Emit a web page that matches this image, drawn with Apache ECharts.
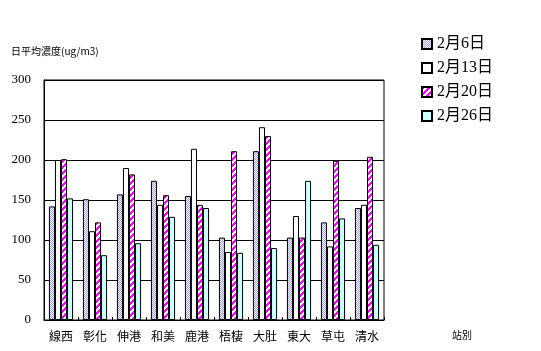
<!DOCTYPE html>
<html>
<head>
<meta charset="utf-8">
<script src="https://cdn.jsdelivr.net/npm/echarts@6/dist/echarts.min.js"></script>
<style>
  html, body { margin: 0; padding: 0; background: #fff; }
  #chart { width: 541px; height: 351px; }
</style>
</head>
<body>
<div id="chart"></div>
<script>
// 站別
var stations = ['線西', '彰化', '伸港', '和美', '鹿港', '梧棲', '大肚', '東大', '草屯', '清水'];
var seriesNames = ['2月6日', '2月13日', '2月20日', '2月26日'];
// 日平均濃度 (ug/m3)
var feb6  = [142, 151, 157, 174, 155, 103, 211, 103, 122, 140];
var feb13 = [200, 111, 190, 144, 214, 85, 241, 130, 92, 144];
var feb20 = [201, 122, 182, 156, 144, 211, 230, 103, 199, 204];
var feb26 = [152, 81, 96, 129, 140, 84, 90, 174, 127, 94];
var yTicks = [0, 50, 100, 150, 200, 250, 300];

// 填充圖樣
function dotPattern() {
  var c = document.createElement('canvas');
  c.width = 2; c.height = 2;
  var ctx = c.getContext('2d');
  ctx.fillStyle = '#ffffff';
  ctx.fillRect(0, 0, 2, 2);
  ctx.fillStyle = '#9c9cf4';
  ctx.fillRect(0, 0, 1, 1);
  ctx.fillRect(1, 1, 1, 1);
  return c;
}
function stripePattern() {
  var c = document.createElement('canvas');
  c.width = 6; c.height = 6;
  var ctx = c.getContext('2d');
  ctx.fillStyle = '#ffffff';
  ctx.fillRect(0, 0, 6, 6);
  ctx.fillStyle = '#ff00ff';
  for (var y = 0; y < 6; y++) {
    for (var k = 0; k < 3; k++) {
      var x = (6 - y + k) % 6;
      ctx.fillRect(x, y, 1, 1);
    }
  }
  return c;
}

var colors = [
  { image: dotPattern(), repeat: 'repeat' },
  '#ffffff',
  { image: stripePattern(), repeat: 'repeat' },
  '#ccffff'
];
var dataSets = [feb6, feb13, feb20, feb26];

var font = '"Liberation Serif", "Noto Sans CJK TC", serif';
var series = [];
for (var i = 0; i < seriesNames.length; i++) {
  series.push({
    name: seriesNames[i],
    type: 'bar',
    data: dataSets[i],
    barGap: '0%',
    barCategoryGap: '29%',
    itemStyle: { color: colors[i], borderColor: '#000', borderWidth: 1 }
  });
}

var myChart = echarts.init(document.getElementById('chart'));
var option = {
  animation: false,
  backgroundColor: '#fff',
  title: {
    text: '日平均濃度(ug/m3)',
    left: 6, top: 41,
    textStyle: { fontSize: 10, fontWeight: 'normal', color: '#000', fontFamily: '"Noto Sans CJK TC", sans-serif' }
  },
  legend: {
    orient: 'vertical',
    left: 416, top: 31,
    itemWidth: 10, itemHeight: 10, itemGap: 8,
    icon: 'rect',
    textStyle: { fontSize: 16, color: '#000', fontFamily: font },
    data: seriesNames
  },
  grid: {
    left: 44, right: 157, top: 80, bottom: 31,
    show: true, borderColor: '#000', borderWidth: 1
  },
  xAxis: {
    type: 'category',
    data: stations,
    axisLine: { lineStyle: { color: '#000', width: 1 } },
    axisTick: { show: true, inside: true, length: 3, lineStyle: { color: '#000' } },
    axisLabel: { color: '#000', fontSize: 12, margin: 10, fontFamily: '"Noto Sans CJK TC", sans-serif' }
  },
  yAxis: {
    type: 'value',
    min: yTicks[0], max: yTicks[yTicks.length - 1], interval: 50,
    axisLine: { show: true, lineStyle: { color: '#000', width: 1 } },
    axisTick: { show: false },
    splitLine: { lineStyle: { color: '#000', width: 1 } },
    axisLabel: { color: '#000', fontSize: 13, margin: 13, fontFamily: font }
  },
  graphic: [{
    type: 'text', left: 452, top: 330,
    style: { text: '站別', fontSize: 10, fill: '#000', fontFamily: '"Noto Sans CJK TC", sans-serif' }
  }],
  series: series
};
myChart.setOption(option);
</script>
</body>
</html>
